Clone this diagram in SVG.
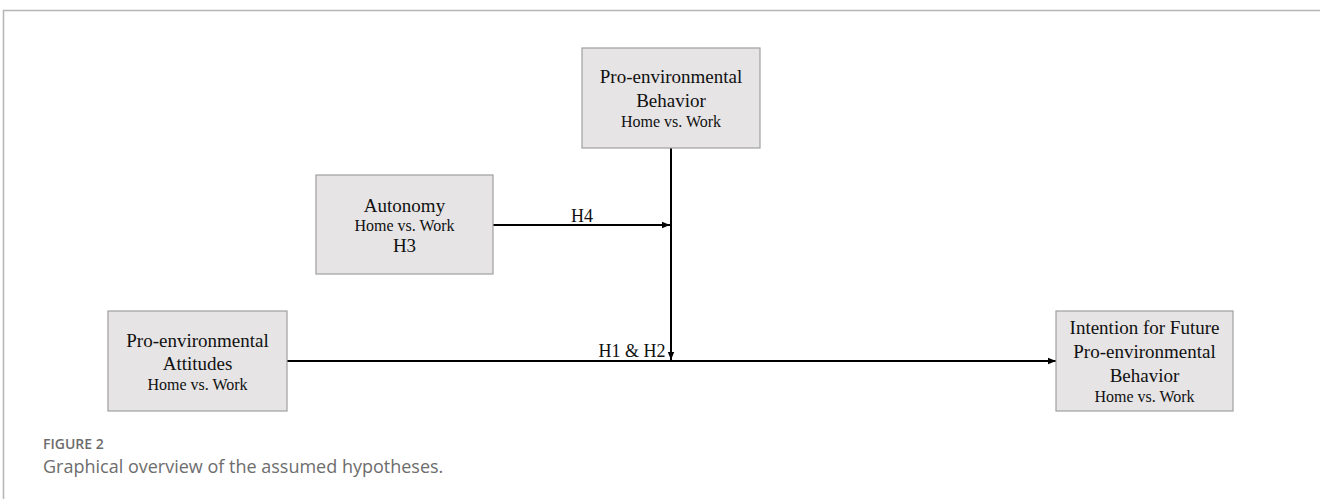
<svg xmlns="http://www.w3.org/2000/svg" width="1320" height="499" viewBox="0 0 1320 499">
<style>
.box{fill:#e6e4e5;stroke:#a0a0a0;stroke-width:1.2}
.t{font-family:"Liberation Serif",serif;font-size:19px;fill:#111;text-anchor:middle}
.s{font-family:"Liberation Serif",serif;font-size:16px;fill:#111;text-anchor:middle}
.e{stroke:#000;stroke-width:2;fill:none}
.cap{font-family:"Open Sans",sans-serif;fill:#6d6d6d}
</style>
<defs>
<marker id="ah" viewBox="0 0 10 10" refX="10" refY="5" markerWidth="4" markerHeight="4" orient="auto" markerUnits="strokeWidth">
<path d="M0,1 L10,5 L0,9 z" fill="#000"/>
</marker>
</defs>
<path d="M3.5,499 V10.5 H1320" fill="none" stroke="#b5b5b5" stroke-width="1.5"/>
<g id="connectors">
<line class="e" x1="493" y1="225" x2="670" y2="225" marker-end="url(#ah)"/>
<line class="e" x1="671" y1="148" x2="671" y2="360" marker-end="url(#ah)"/>
<line class="e" x1="287" y1="361" x2="1056" y2="361" marker-end="url(#ah)"/>
<text class="t" x="582" y="222" style="font-size:18px">H4</text>
<text class="t" x="632" y="357" style="font-size:18px">H1 &amp; H2</text>
</g>
<g id="node-behavior">
<rect class="box" x="582" y="48" width="178" height="100"/>
<text class="t" x="671" y="83">Pro-environmental</text>
<text class="t" x="671" y="107">Behavior</text>
<text class="s" x="671" y="127">Home vs. Work</text>
</g>
<g id="node-autonomy">
<rect class="box" x="316" y="175" width="177" height="99"/>
<text class="t" x="404.5" y="212">Autonomy</text>
<text class="s" x="404.5" y="231">Home vs. Work</text>
<text class="t" x="404.5" y="252">H3</text>
</g>
<g id="node-attitudes">
<rect class="box" x="108" y="311" width="179" height="100"/>
<text class="t" x="197.5" y="347">Pro-environmental</text>
<text class="t" x="197.5" y="370">Attitudes</text>
<text class="s" x="197.5" y="390">Home vs. Work</text>
</g>
<g id="node-intention">
<rect class="box" x="1056" y="311" width="177" height="100"/>
<text class="t" x="1144.5" y="334">Intention for Future</text>
<text class="t" x="1144.5" y="358">Pro-environmental</text>
<text class="t" x="1144.5" y="382">Behavior</text>
<text class="s" x="1144.5" y="402">Home vs. Work</text>
</g>
<text class="cap" x="43" y="449" style="font-size:14px;font-weight:600">FIGURE 2</text>
<text class="cap" x="43" y="473" style="font-size:18px">Graphical overview of the assumed hypotheses.</text>
</svg>
